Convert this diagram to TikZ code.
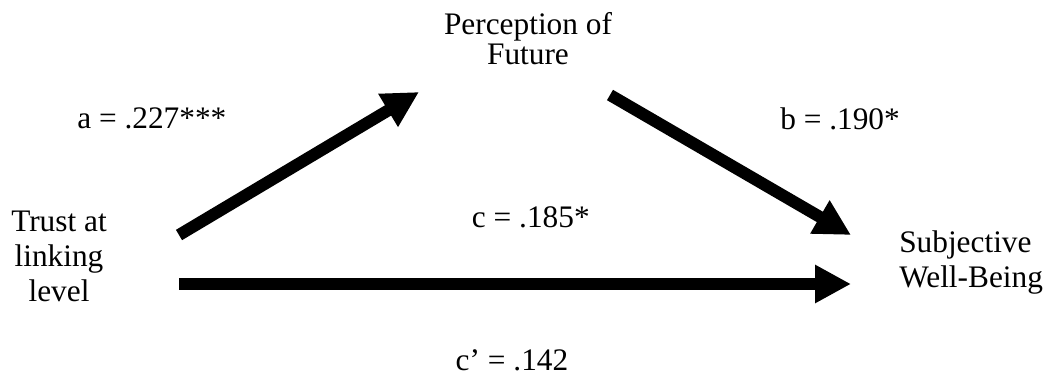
\documentclass[tikz,border=0pt]{standalone}
\usepackage{fontspec}
\setmainfont{Liberation Serif}
\usetikzlibrary{arrows.meta, positioning}

\begin{document}
\begin{tikzpicture}[
    x=0.75pt, y=-0.75pt,
    var/.style={inner sep=0pt, align=center, font=\fontsize{23.5}{26.25}\selectfont},
    coef/.style={inner sep=0pt, font=\fontsize{23.5}{25}\selectfont},
    arr/.style={-{Triangle[length=27pt, width=27pt]}, line width=9pt}
  ]
    \useasboundingbox (0,0) rectangle (1051,378);

    % variables
    \node[var, anchor=base, font=\fontsize{23.5}{22.5}\selectfont] (percep) at (528,65) {Perception of\\Future};
    \node[var, anchor=base] (trust) at (59,301) {Trust at\\linking\\level};
    \node[var, anchor=base west, align=left] (swb) at (899,287) {Subjective\\Well-Being};

    % path ends
    \coordinate (aS) at (179,235);
    \coordinate (aE) at (419,92);
    \coordinate (bS) at (610,95);
    \coordinate (bE) at (851,235);
    \coordinate (cS) at (179,284);
    \coordinate (cE) at (851,284);

    \draw[arr] (aS) -- (aE);
    \draw[arr] (bS) -- (bE);
    \draw[arr] (cS) -- (cE);

    % coefficients
    \node[coef, anchor=base west] (la) at (77,129) {a = .227***};
    \node[coef, anchor=base west] (lb) at (780,130) {b = .190*};
    \node[coef, anchor=base east] (lc) at (590,228) {c = .185*};
    \node[coef, anchor=base] (lcp) at (512,370) {c’ = .142};
  \end{tikzpicture}
\end{document}
